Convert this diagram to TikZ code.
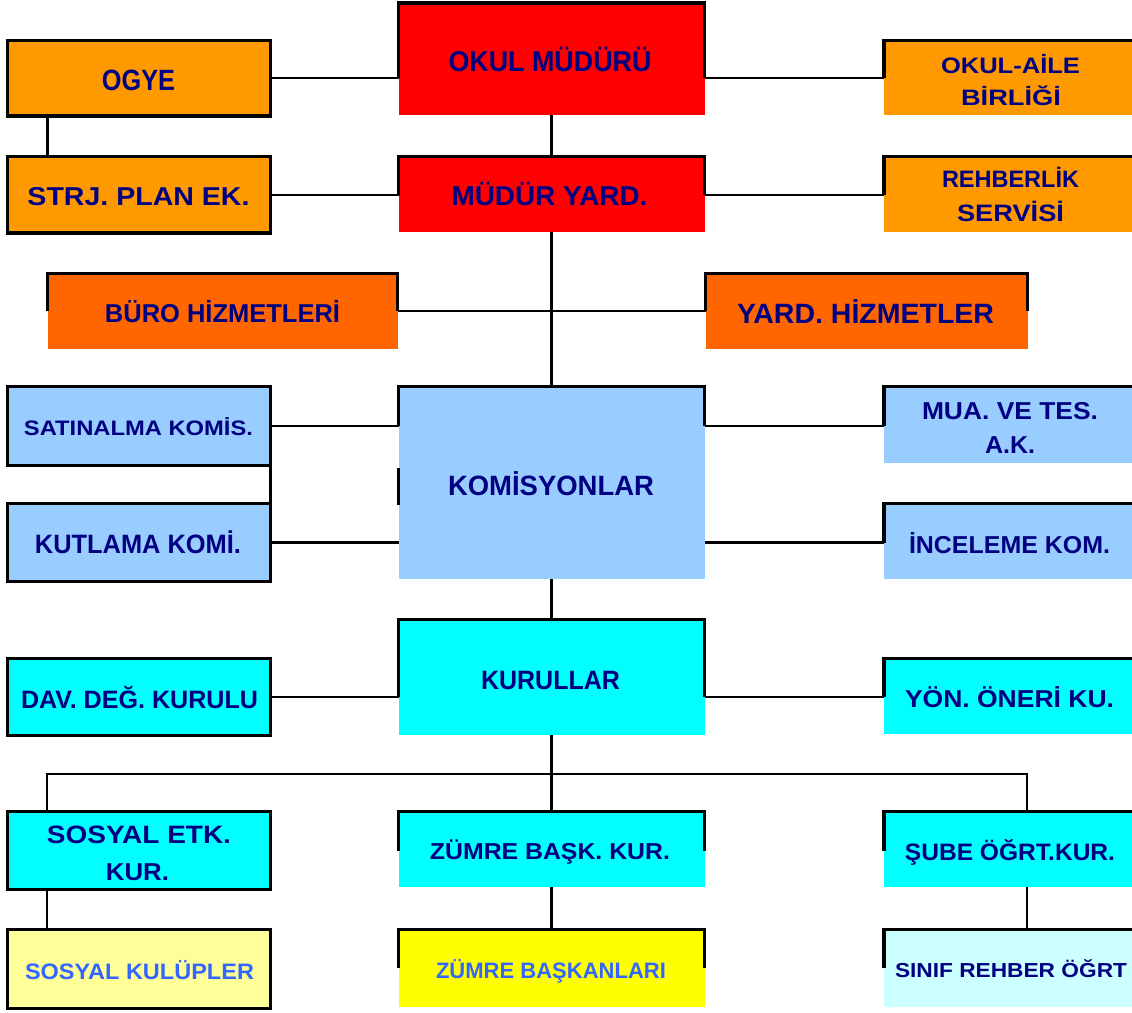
\documentclass[tikz,border=0pt]{standalone}
\usepackage{fontspec}
\setmainfont{Liberation Sans}
\usepackage{graphicx}
\definecolor{navy}{HTML}{000080}
\definecolor{txtblue}{HTML}{3366FF}
\definecolor{cred}{HTML}{FF0000}
\definecolor{corange}{HTML}{FF9900}
\definecolor{cdorange}{HTML}{FF6600}
\definecolor{clblue}{HTML}{99CCFF}
\definecolor{ccyan}{HTML}{00FFFF}
\definecolor{clyellow}{HTML}{FFFF99}
\definecolor{cyellow}{HTML}{FFFF00}
\definecolor{clcyan}{HTML}{CCFFFF}
\tikzset{
  box/.style={draw=none,inner sep=0pt,outer sep=0pt,rectangle},
  bord/.style={draw=black,line width=3.5pt,line join=miter},
  conn/.style={draw=black,line width=2.2pt},
  txt/.style={anchor=base,inner sep=0pt,outer sep=0pt,text=navy,font=\bfseries},
  txtb/.style={txt,text=txtblue},
}
\newcommand\bx[6]{%
  \pgfmathsetmacro\bxcx{(#3+#5)/2}\pgfmathsetmacro\bxcy{(#4+#6)/2}%
  \pgfmathsetmacro\bxw{#5-#3}\pgfmathsetmacro\bxh{#6-#4}%
  \node[box,fill=#2,minimum width=\bxw pt,minimum height=\bxh pt] (#1) at (\bxcx,\bxcy) {};}
% [style]{name}{cx}{baseline}{width}{capheight}{text}
\newcommand\tx[7][txt]{%
  \node[#1] (#2) at (#3,#4) {\resizebox{#5pt}{#6pt}{\raisebox{0pt}[7.16pt][0pt]{\fontsize{10}{12}\selectfont\bfseries #7}}};}
\begin{document}
\begin{tikzpicture}[x=1pt,y=-1pt]
\useasboundingbox (0,0) rectangle (1132,1012);
\clip (0,0) rectangle (1132,1012);
\fill[white] (0,0) rectangle (1132,1012);
% boxes
\bx{ogye}{corange}{7.5}{40.5}{270.5}{116}
\bx{okul}{cred}{398.5}{3}{704.5}{115}
\bx{aile}{corange}{884}{40.5}{1145}{115}
\bx{strj}{corange}{7.5}{156.5}{270.5}{233}
\bx{yard}{cred}{398.5}{156.5}{704.5}{232}
\bx{rehber}{corange}{884}{156.5}{1145}{232}
\bx{buro}{cdorange}{47.5}{273.5}{397.5}{349}
\bx{yardh}{cdorange}{705.5}{273.5}{1027.5}{349}
\bx{satin}{clblue}{7.5}{386.5}{270.5}{465.5}
\bx{kutla}{clblue}{7.5}{503.5}{270.5}{581.5}
\bx{komis}{clblue}{398.5}{386.5}{704.5}{579}
\bx{mua}{clblue}{884}{386.5}{1145}{463}
\bx{incele}{clblue}{884}{503.5}{1145}{579}
\bx{dav}{ccyan}{7.5}{658.5}{270.5}{735.5}
\bx{kurul}{ccyan}{398.5}{619.5}{704.5}{735}
\bx{yon}{ccyan}{884}{658.5}{1145}{734}
\bx{sosetk}{ccyan}{7.5}{811.5}{270.5}{889.5}
\bx{zumre}{ccyan}{398.5}{811.5}{704.5}{887}
\bx{sube}{ccyan}{884}{811.5}{1145}{887}
\bx{soskul}{clyellow}{7.5}{929.5}{270.5}{1008.5}
\bx{zbask}{cyellow}{398.5}{929.5}{704.5}{1007}
\bx{sinif}{clcyan}{884}{929.5}{1145}{1007}
% full borders
\foreach \n in {ogye,strj,satin,kutla,dav,sosetk,soskul}
  \draw[bord] (\n.south west) rectangle (\n.north east);
% partial borders
\draw[bord] (okul.west |- ogye.east) -- (okul.north west) -- (okul.north east) -- (okul.east |- ogye.east);
\draw[bord] (aile.west |- ogye.east) -- (aile.north west) -- (aile.north east);
\draw[bord] (yard.west |- strj.east) -- (yard.north west) -- (yard.north east) -- (yard.east |- strj.east);
\draw[bord] (rehber.west |- strj.east) -- (rehber.north west) -- (rehber.north east);
\draw[bord] (buro.west) -- (buro.north west) -- (buro.north east) -- (buro.east);
\draw[bord] (yardh.west) -- (yardh.north west) -- (yardh.north east) -- (yardh.east);
\draw[bord] (komis.west |- satin.east) -- (komis.north west) -- (komis.north east) -- (komis.east |- satin.east);
\draw[bord] ([yshift=-2pt]komis.west |- satin.south) -- ([yshift=-1pt]komis.west |- kutla.north);
\draw[bord] (mua.west |- satin.east) -- (mua.north west) -- (mua.north east);
\draw[bord] (incele.west |- kutla.east) -- (incele.north west) -- (incele.north east);
\draw[bord] (kurul.west |- dav.east) -- (kurul.north west) -- (kurul.north east) -- (kurul.east |- dav.east);
\draw[bord] (yon.west |- dav.east) -- (yon.north west) -- (yon.north east);
\draw[bord] ([yshift=-2pt]zumre.west) -- (zumre.north west) -- (zumre.north east) -- ([yshift=-2pt]zumre.east);
\draw[bord] ([yshift=-2pt]sube.west) -- (sube.north west) -- (sube.north east);
\draw[bord] (zbask.west) -- (zbask.north west) -- (zbask.north east) -- (zbask.east);
\draw[bord] (sinif.west) -- (sinif.north west) -- (sinif.north east);
% connectors
\draw[conn] (ogye.east) -- (okul.west |- ogye.east);
\draw[conn] (okul.east |- ogye.east) -- (aile.west |- ogye.east);
\draw[conn] ([xshift=40pt]ogye.south west) -- ([xshift=40pt]strj.north west);
\draw[conn] (okul.south) -- (yard.north);
\draw[conn] (strj.east) -- (yard.west |- strj.east);
\draw[conn] (yard.east |- strj.east) -- (rehber.west |- strj.east);
\draw[conn] (yard.south) -- (komis.north);
\draw[conn] (buro.east) -- (yardh.west);
\draw[conn] (satin.east) -- (komis.west |- satin.east);
\draw[conn] (satin.south east) -- (kutla.north east);
\draw[conn] (kutla.east) -- (komis.west |- kutla.east);
\draw[conn] (komis.east |- satin.east) -- (mua.west |- satin.east);
\draw[conn] (komis.east |- kutla.east) -- (incele.west |- kutla.east);
\draw[conn] (komis.south) -- (kurul.north);
\draw[conn] (dav.east) -- (kurul.west |- dav.east);
\draw[conn] (kurul.east |- dav.east) -- (yon.west |- dav.east);
\coordinate (bus) at (551.5,774);
\draw[conn] (kurul.south) -- (zumre.north);
\draw[conn] ([xshift=39.5pt]sosetk.north west) |- (bus) -| ([xshift=143pt]sube.north west);
\draw[conn] ([xshift=39.5pt]sosetk.south west) -- ([xshift=39.5pt]soskul.north west);
\draw[conn] (zumre.south) -- (zbask.north);
\draw[conn] ([xshift=143pt]sube.south west) -- ([xshift=143pt]sinif.north west);
% texts
\tx{t-ogye}{138.5}{90}{73}{21}{OGYE}
\tx{t-okul}{550}{71}{203}{20.5}{OKUL MÜDÜRÜ}
\tx{t-aile1}{1010.5}{73}{139}{16}{OKUL-AİLE}
\tx{t-aile2}{1011}{105}{100}{16}{BİRLİĞİ}
\tx{t-strj}{138.5}{205}{222}{18.5}{STRJ. PLAN EK.}
\tx{t-yard}{549.5}{205}{196}{19.5}{MÜDÜR YARD.}
\tx{t-rehber1}{1010.5}{187}{137}{17}{REHBERLİK}
\tx{t-rehber2}{1010.5}{221}{107}{17}{SERVİSİ}
\tx{t-buro}{222.5}{322}{235}{18.5}{BÜRO HİZMETLERİ}
\tx{t-yardh}{865.5}{323}{257}{20}{YARD. HİZMETLER}
\tx{t-satin}{138.5}{435}{229}{15}{SATINALMA KOMİS.}
\tx{t-kutla}{138}{553}{206}{19}{KUTLAMA KOMİ.}
\tx{t-komis}{551}{495}{206}{20}{KOMİSYONLAR}
\tx{t-mua1}{1010}{419}{176}{17.5}{MUA. VE TES.}
\tx{t-mua2}{1010}{453}{50}{17.5}{A.K.}
\tx{t-incele}{1009.5}{553}{201}{17.5}{İNCELEME KOM.}
\tx{t-dav}{139.5}{708}{237}{18}{DAV. DEĞ. KURULU}
\tx{t-kurul}{550.5}{689}{139}{19}{KURULLAR}
\tx{t-yon}{1009.5}{707}{209}{17.5}{YÖN. ÖNERİ KU.}
\tx{t-sosetk1}{139}{843}{184}{18}{SOSYAL ETK.}
\tx{t-sosetk2}{137.5}{880}{63}{17.5}{KUR.}
\tx{t-zumre}{550}{859}{240}{16.5}{ZÜMRE BAŞK. KUR.}
\tx{t-sube}{1010}{860}{210}{17}{ŞUBE ÖĞRT.KUR.}
\tx[txtb]{t-soskul}{139.5}{979}{229}{16}{SOSYAL KULÜPLER}
\tx[txtb]{t-zbask}{551}{978}{230}{16}{ZÜMRE BAŞKANLARI}
\tx{t-sinif}{1011}{977}{232}{14.5}{SINIF REHBER ÖĞRT}
\end{tikzpicture}
\end{document}
